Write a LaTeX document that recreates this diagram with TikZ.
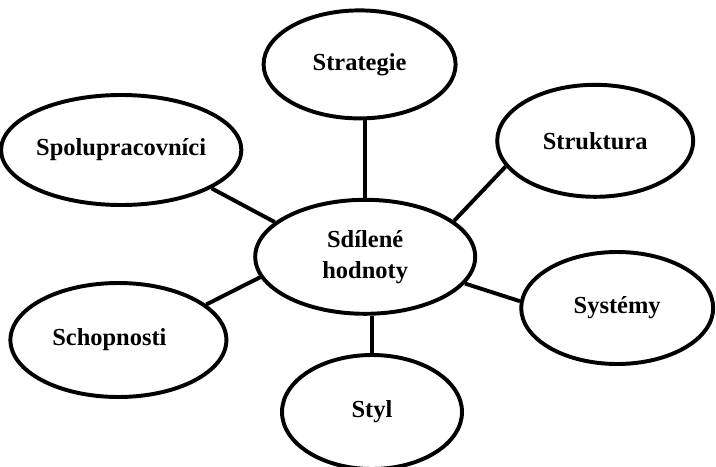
\documentclass[tikz,border=0pt]{standalone}
\usepackage{fontspec}
\setmainfont{Liberation Serif}
\usepackage{tikz}
\usetikzlibrary{shapes.geometric}
\usetikzlibrary{positioning}

\tikzset{bubble/.style={ellipse,draw,line width=2.8pt,inner sep=0pt,align=center,
  font=\fontsize{17.4}{22}\selectfont\bfseries}}

\begin{document}
\begin{tikzpicture}
\useasboundingbox (0,0) rectangle (17.9,11.65);
\node[bubble,minimum width=4.8cm,minimum height=2.7cm] (strategie) at (8.99,10.04) {Strategie};
\node[bubble,minimum width=5.35cm,minimum height=2.75cm] (spolu) at (3.03,7.9) {Spolupracovníci};
\node[bubble,minimum width=4.9cm,minimum height=2.8cm] (struktura) at (14.88,8.13) {Struktura};
\node[bubble,minimum width=5.5cm,minimum height=2.85cm] (hodnoty) at (9.13,5.23) {Sdílené\\hodnoty};
\node[bubble,minimum width=4.8cm,minimum height=2.8cm] (systemy) at (15.43,3.95) {Systémy};
\node[bubble,minimum width=5.4cm,minimum height=2.85cm] (schopnosti) at (2.96,3.15) {Schopnosti\hspace*{0.45cm}};
\node[bubble,minimum width=4.5cm,minimum height=2.85cm] (styl) at (9.3,1.35) {Styl};
\draw[line width=2.8pt] (hodnoty.north) to (hodnoty.north |- strategie.south);
\draw[line width=2.8pt] (hodnoty.159) to (spolu.337);
\draw[line width=2.8pt] (hodnoty.22) to (struktura.196);
\draw[line width=2.8pt] (hodnoty.345) to (systemy.176);
\draw[line width=2.8pt] (hodnoty.191) to (schopnosti.22);
\draw[line width=2.8pt] (styl.north) to (styl.north |- hodnoty.south);
\end{tikzpicture}
\end{document}
